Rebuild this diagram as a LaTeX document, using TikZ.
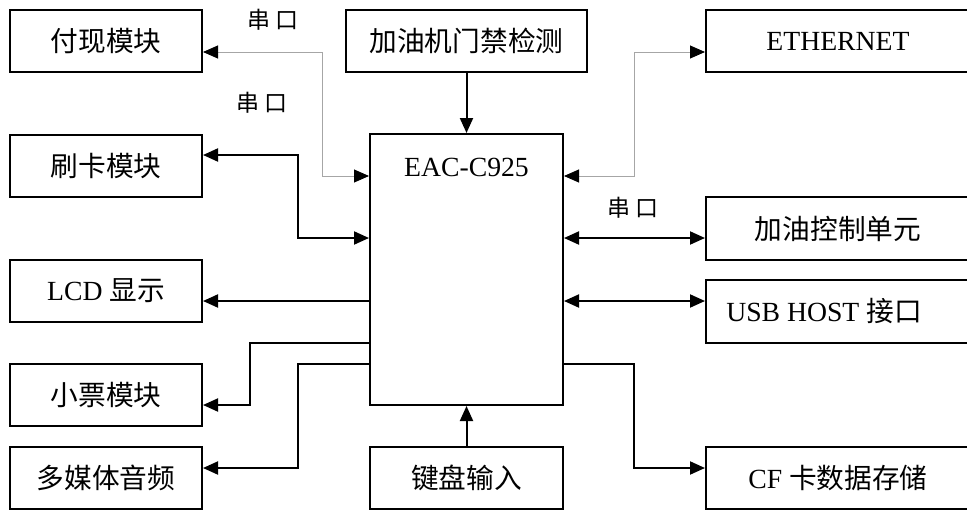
\documentclass[tikz,border=0pt]{standalone}
\usepackage{fontspec}
\setmainfont{Liberation Serif}
\newfontfamily\cjk{Noto Sans CJK SC}
\usetikzlibrary{arrows.meta}
\begin{document}
\begin{tikzpicture}[x=1pt,y=-1pt,
  box/.style={draw,line width=2pt,inner sep=0pt,minimum height=62pt,
    font=\fontsize{27.7}{30}\selectfont},
  lbox/.style={box,minimum width=192pt},
  rbox/.style={box,minimum width=264pt},
  cbox/.style={box,minimum width=193pt},
  conn/.style={line width=2pt},
  thin/.style={draw=gray!70,line width=0.9pt},
  tip/.tip={Triangle[length=15pt,width=13pt,color=black]},
  lbl/.style={font=\fontsize{23}{26}\selectfont\cjk,inner sep=0pt}]
\useasboundingbox (0,0) rectangle (967,509);
% left column
\node[lbox] (pay) at (106,41) {\cjk 付现模块};
\node[lbox] (card) at (106,166) {\cjk 刷卡模块};
\node[lbox] (lcd) at (106,291) {LCD {\cjk 显示}};
\node[lbox] (ticket) at (106,395) {\cjk 小票模块};
\node[lbox] (media) at (106,478) {\cjk 多媒体音频};
% centre column
\node[box,minimum width=241pt] (door) at (466.5,41) {\cjk 加油机门禁检测};
\node[cbox,minimum height=271pt] (main) at (466.5,269.5) {};
\node[inner sep=0pt,font=\fontsize{27.7}{30}\selectfont] (mainlbl) at (466.5,167) {EAC-C925};
\node[cbox] (kbd) at (466.5,478) {\cjk 键盘输入};
% right column
\node[rbox] (eth) at (838,41) {ETHERNET};
\node[rbox,minimum height=63pt] (ctrl) at (838,228.5) {\cjk 加油控制单元};
\node[rbox,minimum height=63pt] (usb) at (838,311.5) {\hspace*{-28pt}USB HOST {\cjk 接口}};
\node[rbox] (cf) at (838,478) {CF {\cjk 卡数据存储}};
% labels
\node[lbl] (s1) at (273,20) {串 口};
\node[lbl] (s2) at (262,103) {串 口};
\node[lbl] (s3) at (633,208) {串 口};
% connectors left
\draw[thin,tip-tip] (pay.east |- 0,52) -- (322,52) -- (322,176) -- (main.west |- 0,176);
\draw[conn,tip-tip] (card.east |- 0,155) -- (298,155) -- (298,238) -- (main.west |- 0,238);
\draw[conn,-tip] (main.west |- 0,301) -- (lcd.east |- 0,301);
\draw[conn,-tip] (main.west |- 0,343) -- (250,343) -- (250,405) -- (ticket.east |- 0,405);
\draw[conn,-tip] (main.west |- 0,364) -- (298,364) -- (298,468) -- (media.east |- 0,468);
% connectors centre
\draw[conn,-tip] (door.south) -- (main.north);
\draw[conn,-tip] (kbd.north) -- (main.south);
% connectors right
\draw[thin,tip-tip] (main.east |- 0,176) -- (634,176) -- (634,52) -- (eth.west |- 0,52);
\draw[conn,tip-tip] (main.east |- 0,238) -- (ctrl.west |- 0,238);
\draw[conn,tip-tip] (main.east |- 0,301) -- (usb.west |- 0,301);
\draw[conn,-tip] (main.east |- 0,364) -- (634,364) -- (634,468) -- (cf.west |- 0,468);
\end{tikzpicture}
\end{document}
